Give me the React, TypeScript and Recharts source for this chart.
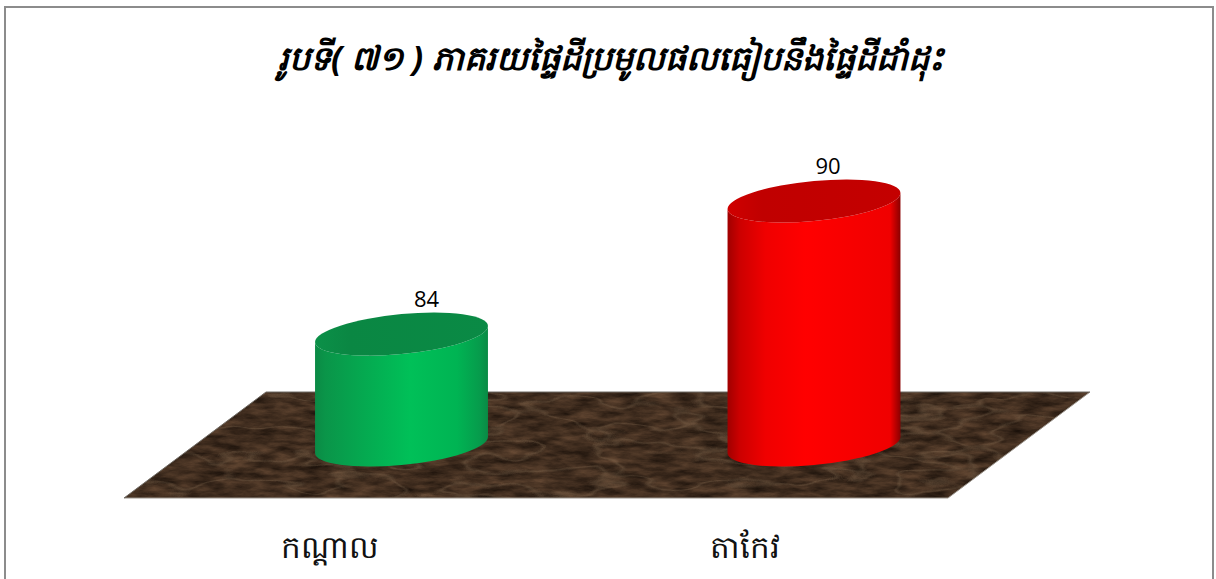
import { BarChart, Bar, XAxis, YAxis, Customized } from "recharts";

const categories = ["កណ្ដាល", "តាកែវ"];
const values = [84, 90];
const chartTitle = "រូបទី( ៧១ ) ភាគរយផ្ទៃដីប្រមូលផលធៀបនឹងផ្ទៃដីដាំដុះ";

const data = categories.map((name, i) => ({ name, value: values[i] }));

const FONT = "'Noto Sans', 'Open Sans', sans-serif";
const labelShift = [25, 14];
const tickShift = [-71, -69];

// tilted ellipse used for cap and base of the cylinders
const TILT = (-5.6 * Math.PI) / 180;
const RY = 19.9;

const renderCylinder = (props: any) => {
	const { x, y, width, height, index } = props;
	const cx = x + width / 2;
	const rx = width * 0.502;
	const base = y + height;
	const xMax = Math.sqrt(
		rx * rx * Math.cos(TILT) ** 2 + RY * RY * Math.sin(TILT) ** 2
	);
	const dy = ((rx * rx - RY * RY) * Math.sin(TILT) * Math.cos(TILT)) / xMax;
	const rot = (TILT * 180) / Math.PI;
	const arc = `A${rx} ${RY} ${rot}`;
	const body = [
		`M${cx - xMax} ${y - dy}`,
		`L${cx - xMax} ${base - dy}`,
		`${arc} 0 0 ${cx + xMax} ${base + dy}`,
		`L${cx + xMax} ${y + dy}`,
		`${arc} 0 1 ${cx - xMax} ${y - dy}`,
		"Z",
	].join(" ");
	const cap = [
		`M${cx - xMax} ${y - dy}`,
		`${arc} 0 1 ${cx + xMax} ${y + dy}`,
		`${arc} 0 1 ${cx - xMax} ${y - dy}`,
		"Z",
	].join(" ");
	return (
		<g key={index}>
			<path d={body} fill={`url(#side${index})`} />
			<path d={cap} fill={`url(#cap${index})`} />
		</g>
	);
};

const ValueLabel = (props: any) => {
	const { x, y, width, value, index } = props;
	return (
		<text
			x={x + width / 2 + labelShift[index]}
			y={y - 27}
			textAnchor="middle"
			fontFamily="'Open Sans', sans-serif"
			fontSize={22}
			fill="#000"
		>
			{value}
		</text>
	);
};

const CategoryTick = (props: any) => {
	const { x, payload, index } = props;
	return (
		<text
			x={x + tickShift[index]}
			y={558}
			textAnchor="middle"
			fontFamily={FONT}
			fontSize={31}
			fill="#111"
		>
			{payload.value}
		</text>
	);
};

const Decor = () => (
	<g>
		<defs>
			<filter
				id="marble"
				x="0"
				y="0"
				width="100%"
				height="100%"
				colorInterpolationFilters="sRGB"
			>
				<feTurbulence
					type="fractalNoise"
					baseFrequency="0.04 0.14"
					numOctaves="6"
					seed="7"
				/>
				<feColorMatrix
					type="matrix"
					values="0.36 0 0 0 0.07  0.27 0 0 0 0.04  0.2 0 0 0 0.02  0 0 0 0 1"
					result="dark"
				/>
				<feTurbulence
					type="fractalNoise"
					baseFrequency="0.01 0.035"
					numOctaves="3"
					seed="23"
				/>
				<feColorMatrix
					type="matrix"
					values="0 0 0 0 0.6  0 0 0 0 0.5  0 0 0 0 0.39  1 0 0 0 0"
				/>
				{/* thin contour around mid-grey gives the veins */}
				<feComponentTransfer result="veins">
					<feFuncA
						type="table"
						tableValues="0 0 0 0 0 0 0 0 0 0 0 0 0.24 0 0 0 0 0 0 0 0 0 0 0 0"
					/>
				</feComponentTransfer>
				<feMerge result="stone">
					<feMergeNode in="dark" />
					<feMergeNode in="veins" />
				</feMerge>
				<feComposite in="stone" in2="SourceGraphic" operator="in" />
			</filter>
			<linearGradient id="side0" x1="0" x2="1" y1="0" y2="0">
				<stop offset="0" stopColor="#0b8a45" />
				<stop offset="0.06" stopColor="#0a9549" />
				<stop offset="0.28" stopColor="#05a950" />
				<stop offset="0.55" stopColor="#00c058" />
				<stop offset="0.82" stopColor="#00b453" />
				<stop offset="0.95" stopColor="#069c4c" />
				<stop offset="1" stopColor="#0a8a45" />
			</linearGradient>
			<linearGradient id="side1" x1="0" x2="1" y1="0" y2="0">
				<stop offset="0" stopColor="#a00000" />
				<stop offset="0.07" stopColor="#cc0000" />
				<stop offset="0.22" stopColor="#f00000" />
				<stop offset="0.45" stopColor="#ff0000" />
				<stop offset="0.94" stopColor="#f00000" />
				<stop offset="1" stopColor="#8a0000" />
			</linearGradient>
			<linearGradient id="cap0" x1="0" x2="1" y1="0" y2="0">
				<stop offset="0" stopColor="#0b9048" />
				<stop offset="0.2" stopColor="#0a8743" />
				<stop offset="1" stopColor="#0a8a45" />
			</linearGradient>
			<linearGradient id="cap1" x1="0" x2="1" y1="0" y2="0">
				<stop offset="0" stopColor="#d00000" />
				<stop offset="0.2" stopColor="#c00000" />
				<stop offset="1" stopColor="#c40000" />
			</linearGradient>
		</defs>
		<rect
			x={5}
			y={7}
			width={1208}
			height={620}
			fill="#fff"
			stroke="#8c8c8c"
			strokeWidth={2}
		/>
		<text
			x={611}
			y={70}
			textAnchor="middle"
			fontFamily={FONT}
			fontSize={33.5}
			fontWeight="bold"
			fontStyle="italic"
			fill="#000"
		>
			{chartTitle}
		</text>
		<polygon
			points="124,498 948,498 1090,392 266,392"
			fill="#3a2a1c"
			filter="url(#marble)"
		/>
		<polyline
			points="124,498 948,498 1090,392"
			fill="none"
			stroke="#9a948c"
			strokeWidth={1}
		/>
		<polyline
			points="124,498 266,392 1090,392"
			fill="none"
			stroke="#6f6a64"
			strokeWidth={1}
		/>
	</g>
);

export default function App() {
	return (
		<div style={{ width: 1216, height: 579, overflow: "hidden" }}>
			<style>{"body { margin: 0; }"}</style>
			<BarChart
				width={1216}
				height={579}
				data={data}
				margin={{ top: 201, right: 196, bottom: 0, left: 195 }}
				barSize={173}
			>
				<Customized component={Decor} />
				<XAxis
					dataKey="name"
					height={134}
					axisLine={false}
					tickLine={false}
					interval={0}
					tick={<CategoryTick />}
				/>
				<YAxis hide width={0} domain={[79, 90]} />
				<Bar
					dataKey="value"
					isAnimationActive={false}
					shape={renderCylinder}
					label={<ValueLabel />}
				/>
			</BarChart>
		</div>
	);
}
